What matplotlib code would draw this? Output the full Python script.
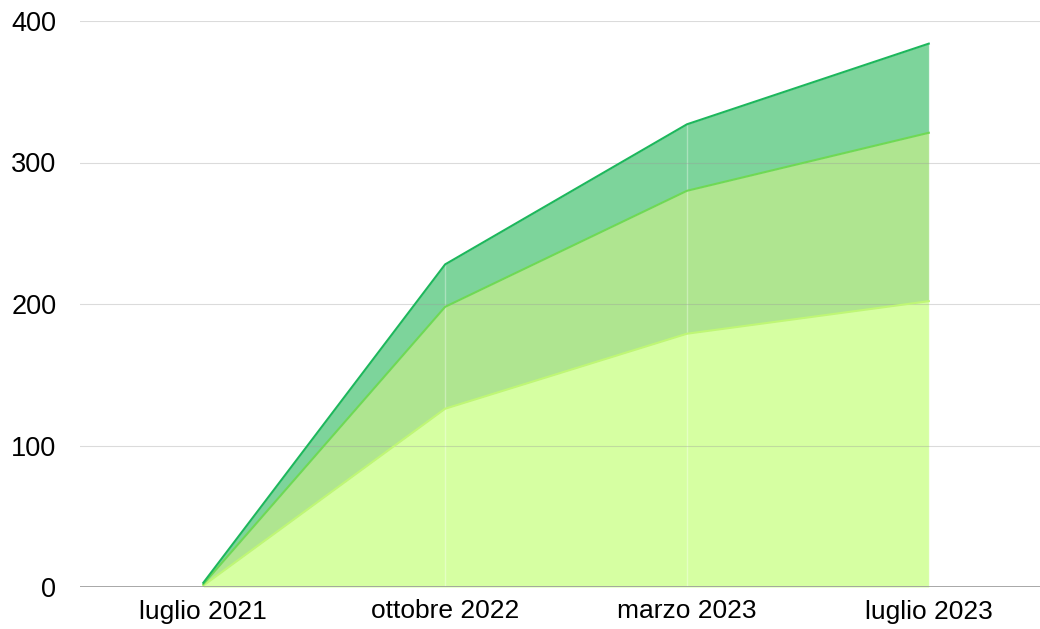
import matplotlib.pyplot as plt
import numpy as np

plt.rcParams['font.family'] = ['Liberation Sans', 'DejaVu Sans']

labels = ["luglio 2021", "ottobre 2022", "marzo 2023", "luglio 2023"]
serie_a = [1, 126, 179, 202]
serie_b = [1, 72, 101, 119]
serie_c = [1, 30, 47, 63]

fill_colors = ["#d6ffa2", "#afe590", "#7dd49b"]
line_colors = ["#bff775", "#6fd954", "#1db75c"]

fig = plt.figure(figsize=(10.4, 6.29), dpi=100)
ax = fig.add_axes([80 / 1040, 1 - 587 / 629, 960 / 1040, 566 / 629])

x = np.arange(len(labels))
a = np.array(serie_a)
b = a + np.array(serie_b)
c = b + np.array(serie_c)

ax.fill_between(x, 0, a, color=fill_colors[0], lw=0, zorder=1)
ax.fill_between(x, a, b, color=fill_colors[1], lw=0, zorder=1)
ax.fill_between(x, b, c, color=fill_colors[2], lw=0, zorder=1)
ax.plot(x, a, color=line_colors[0], lw=1.5, zorder=3)
ax.plot(x, b, color=line_colors[1], lw=1.5, zorder=3)
ax.plot(x, c, color=line_colors[2], lw=1.5, zorder=3)

for xi in x:
    ax.axvline(xi, color="white", lw=1, alpha=0.35, zorder=2)

for yv in [100, 200, 300, 400]:
    ax.axhline(yv, color="#999999", lw=0.8, alpha=0.35, zorder=2)
ax.axhline(0, color="#9a9a9a", lw=1.2, zorder=4)

ax.set_xlim(-0.51, 3.46)
ax.set_ylim(0, 400)
ax.set_xticks(x)
ax.set_xticklabels(labels, fontsize=19)
ax.set_yticks([0, 100, 200, 300, 400])
ax.set_yticklabels(["0", "100", "200", "300", "400"], fontsize=19.5)
ax.tick_params(axis="x", length=0, pad=9)
ax.tick_params(axis="y", length=0, pad=17)
for s in ax.spines.values():
    s.set_visible(False)

plt.savefig("out.png", dpi=100)
